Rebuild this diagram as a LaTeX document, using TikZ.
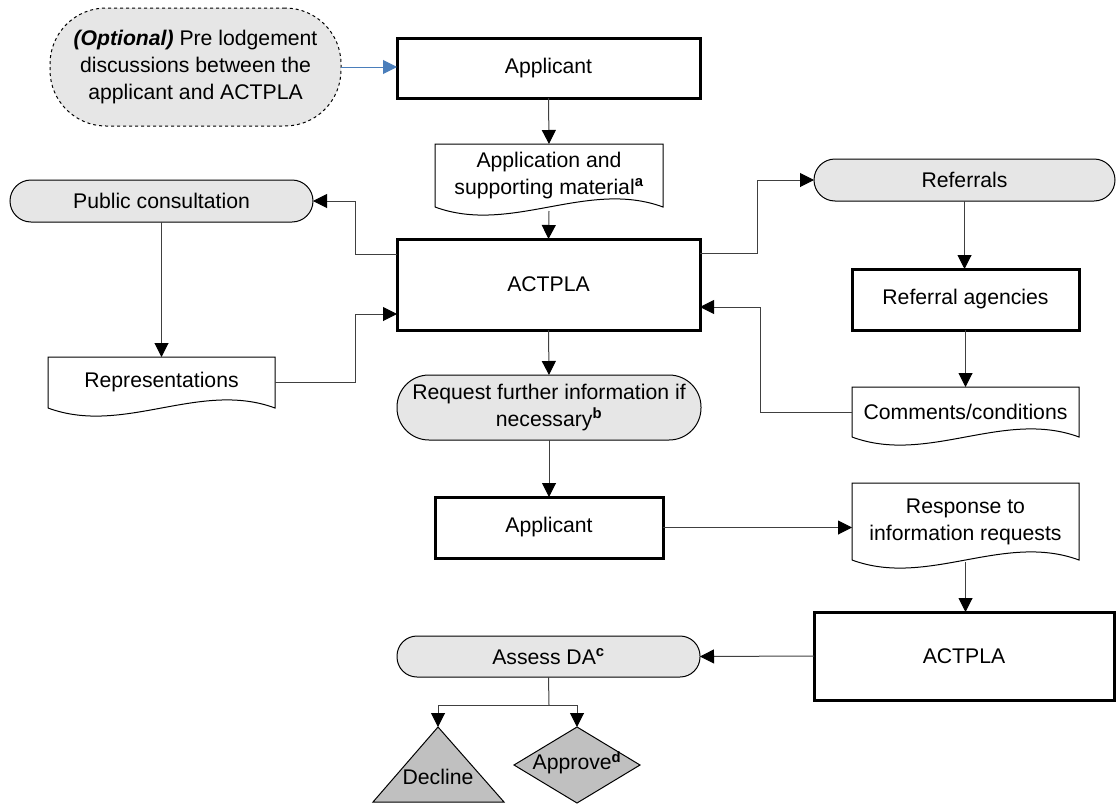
\documentclass[tikz,border=0pt]{standalone}
\usepackage{fontspec}
\setmainfont{Liberation Sans}
\usetikzlibrary{arrows.meta,calc}
\definecolor{lightfill}{HTML}{E6E6E6}
\definecolor{darkfill}{HTML}{C0C0C0}
\definecolor{bluearrow}{HTML}{4A7EBB}
\definecolor{linegray}{HTML}{404040}
\newcommand{\docshape}[1]{%
  \draw[line width=1pt] (#1.south west) -- (#1.north west) -- (#1.north east) -- (#1.south east)
   .. controls ($(#1.south east)!0.333!(#1.south west)+(0,-28)$) and ($(#1.south east)!0.667!(#1.south west)+(0,28)$) .. (#1.south west);}
\begin{document}
\begin{tikzpicture}[x=1pt,y=-1pt,
  every node/.style={font=\fontsize{21.2}{27}\selectfont, align=center, inner sep=0pt, outer sep=0pt},
  thickbox/.style={draw, line width=3pt, fill=white},
  stadium/.style={draw, line width=1pt, fill=lightfill},
  docnode/.style={draw=none},
  conn/.style={draw=linegray, line width=1pt, -{Triangle[length=14pt,width=14pt,color=black]}},
  plain/.style={draw=linegray, line width=1pt}]
\useasboundingbox (0,0) rectangle (1116,803);

% nodes
\node[stadium, dashed, minimum width=291pt, minimum height=118pt, rounded corners=56pt] (opt) at (195.5,67)
  {\textbf{\textit{(Optional)}} Pre lodgement\\discussions between the\\applicant and ACTPLA};
\node[thickbox, minimum width=303pt, minimum height=60pt] (app1) at (548.5,68) {Applicant};
\node[docnode, minimum width=228pt, minimum height=63pt] (doc1) at (549,175.5)
  {Application and\\supporting material\textsuperscript{\bfseries a}};
\docshape{doc1}
\node[thickbox, minimum width=303pt, minimum height=91pt] (act1) at (548.5,284.5) {ACTPLA};
\node[stadium, minimum width=303pt, minimum height=42pt, rounded corners=21pt] (pub) at (161.5,201) {Public consultation};
\node[docnode, minimum width=227pt, minimum height=51pt] (rep) at (161.5,382.5) {Representations};
\docshape{rep}
\node[stadium, minimum width=301pt, minimum height=42pt, rounded corners=21pt] (ref) at (964.5,180) {Referrals};
\node[thickbox, minimum width=227pt, minimum height=61pt] (refag) at (965.5,299.5) {Referral agencies};
\node[docnode, minimum width=227pt, minimum height=50pt] (com) at (965.5,412) {Comments/conditions};
\docshape{com}
\node[stadium, minimum width=304pt, minimum height=65pt, rounded corners=32pt] (req) at (549,407.5)
  {Request further information if\\necessary\textsuperscript{\bfseries b}};
\node[thickbox, minimum width=228pt, minimum height=61pt] (app2) at (549,527.5) {Applicant};
\node[docnode, minimum width=227pt, minimum height=77pt] (resp) at (965.5,521.5)
  {\raisebox{4pt}{\begin{tabular}{@{}c@{}}Response to\\information requests\end{tabular}}};
\docshape{resp}
\node[thickbox, minimum width=300pt, minimum height=88pt] (act2) at (964,656) {ACTPLA};
\node[stadium, minimum width=303pt, minimum height=41pt, rounded corners=20pt] (assess) at (548.5,656.5)
  {Assess DA\textsuperscript{\bfseries c}};

% decline triangle
\coordinate (dectop) at (438,727);
\draw[line width=1pt, fill=darkfill] (dectop) -- (504,802) -- (373,802) -- cycle;
\node (dec) at (438,777) {Decline};
% approve diamond
\coordinate (apptop) at (577,727);
\draw[line width=1pt, fill=darkfill] (apptop) -- (640,765) -- (577,803) -- (514,765) -- cycle;
\node (appr) at (577,763) {Approve\textsuperscript{\bfseries d}};

% connectors
\draw[line width=1pt, draw=bluearrow, -{Triangle[length=14pt,width=14pt,color=bluearrow]}] (opt.east) -- (opt.east -| app1.west);
\draw[conn] (app1.south) -- (doc1.north);
\draw[conn] ($(doc1.south)+(0,4)$) -- (act1.north);
\draw[conn] (act1.west |- 0,254) -- (355,254) |- (pub.east);
\draw[conn] (pub.south) -- (pub.south |- rep.north);
\draw[conn] (rep.east) -- (355,382.5) |- (act1.west |- 0,314);
\draw[conn] (act1.east |- 0,253) -- (757,253) |- (ref.west);
\draw[conn] (ref.south) -- (ref.south |- refag.north);
\draw[conn] (refag.south) -- (com.north);
\draw[conn] (com.west) -- (760,412) |- (act1.east |- 0,307);
\draw[conn] (act1.south) -- (req.north);
\draw[conn] (req.south) -- (app2.north);
\draw[conn] (app2.east) -- (app2.east -| resp.west);
\draw[conn] ($(resp.south)+(0,2)$) -- (resp.south |- act2.north);
\draw[conn] (act2.west) -- (assess.east);
\coordinate (split) at (549,705);
\draw[plain] (assess.south) -- (split);
\draw[conn] (split) -| (dectop);
\draw[conn] (split) -| (apptop);
\end{tikzpicture}
\end{document}
